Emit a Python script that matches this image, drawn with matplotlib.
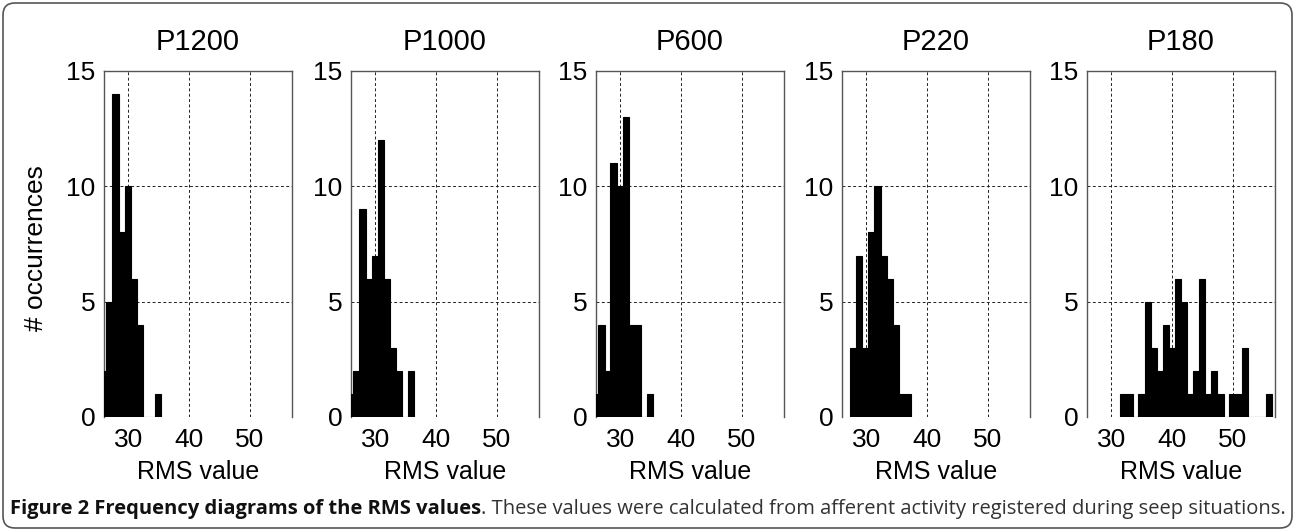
import matplotlib
matplotlib.use("Agg")
import matplotlib.pyplot as plt
from matplotlib.patches import FancyBboxPatch

# histogram bins (centres) and counts, one set per panel
titles = ["P1200", "P1000", "P600", "P220", "P180"]

p1200_centers = [25.9, 26.9, 27.9, 28.9, 29.9, 30.9, 31.9, 32.9, 33.9, 34.9]
p1200_counts = [2, 5, 14, 8, 10, 6, 4, 0, 0, 1]

p1000_centers = [25.9, 26.9, 27.9, 28.9, 29.9, 30.9, 31.9, 32.9, 33.9, 34.9, 35.9]
p1000_counts = [1, 2, 9, 6, 7, 12, 6, 3, 2, 0, 2]

p600_centers = [25.9, 26.9, 27.9, 28.9, 29.9, 30.9, 31.9, 32.9, 33.9, 34.9]
p600_counts = [1, 4, 2, 11, 10, 13, 4, 4, 0, 1]

p220_centers = [27.85, 28.85, 29.85, 30.85, 31.85, 32.85, 33.85, 34.85, 35.85, 36.85]
p220_counts = [3, 7, 3, 8, 10, 7, 6, 4, 1, 1]

p180_centers = [32, 33, 34, 35, 36, 37, 38, 39, 40, 41, 42, 43, 44,
                45, 46, 47, 48, 49, 50, 51, 52, 53, 54, 55, 56]
p180_counts = [1, 1, 0, 1, 5, 3, 2, 4, 3, 6, 5, 1, 2,
               6, 1, 2, 1, 0, 1, 1, 3, 0, 0, 0, 1]

centers = [p1200_centers, p1000_centers, p600_centers, p220_centers, p180_centers]
counts = [p1200_counts, p1000_counts, p600_counts, p220_counts, p180_counts]

xticks = [30, 40, 50]
yticks = [0, 5, 10, 15]

plt.rcParams['font.family'] = ['Liberation Sans', 'DejaVu Sans']

W, H = 1295, 531
fig = plt.figure(figsize=(W / 100, H / 100), dpi=100)

lefts = [104, 351, 596, 842, 1087]
ax_w = 188
ax_top, ax_bot = 71, 417

for i in range(5):
    ax = fig.add_axes([lefts[i] / W, 1 - ax_bot / H, ax_w / W, (ax_bot - ax_top) / H])
    ax.bar(centers[i], counts[i], width=1.02, color='black', edgecolor='black',
           linewidth=0.8, zorder=3)
    ax.set_xlim(26, 57)
    ax.set_ylim(0, 15)
    ax.set_xticks(xticks)
    ax.set_yticks(yticks)
    ax.grid(True, color='#222222', linestyle=(0, (3, 2.5)), linewidth=0.7, zorder=0)
    ax.set_axisbelow(True)
    ax.tick_params(length=0, labelsize=19, pad=6, colors='black')
    ax.tick_params(axis='x', pad=8)
    for s in ['top', 'left', 'right']:
        ax.spines[s].set_color('#555555')
        ax.spines[s].set_linewidth(1.0)
    ax.spines['bottom'].set_visible(False)
    ax.set_title(titles[i], fontsize=21, pad=15)
    ax.set_xlabel("RMS value", fontsize=18, labelpad=6)

fig.text(36 / W, 1 - 248 / H, "# occurrences", rotation=90, fontsize=19,
         ha='center', va='center')

# caption
cap_font = ['Open Sans', 'DejaVu Sans']
t1 = fig.text(10 / W, 1 - 519 / H, "Figure 2 Frequency diagrams of the RMS values",
              fontsize=14.5, fontweight='bold', family=cap_font, color='#111111',
              ha='left', va='bottom')
fig.axes[0].annotate(". These values were calculated from afferent activity registered during seep situations.",
                     xy=(1, 0), xycoords=t1, ha='left', va='bottom', fontsize=14.5,
                     family=cap_font, color='#333333', annotation_clip=False)

# rounded frame around the whole figure
frame = FancyBboxPatch((0.03, 0.03), W / 100 - 0.06, H / 100 - 0.06,
                       boxstyle="round,pad=0,rounding_size=0.12",
                       transform=fig.dpi_scale_trans, fill=False,
                       edgecolor='#555555', linewidth=1.2)
fig.patches.append(frame)

fig.savefig("out.png", dpi=100)
